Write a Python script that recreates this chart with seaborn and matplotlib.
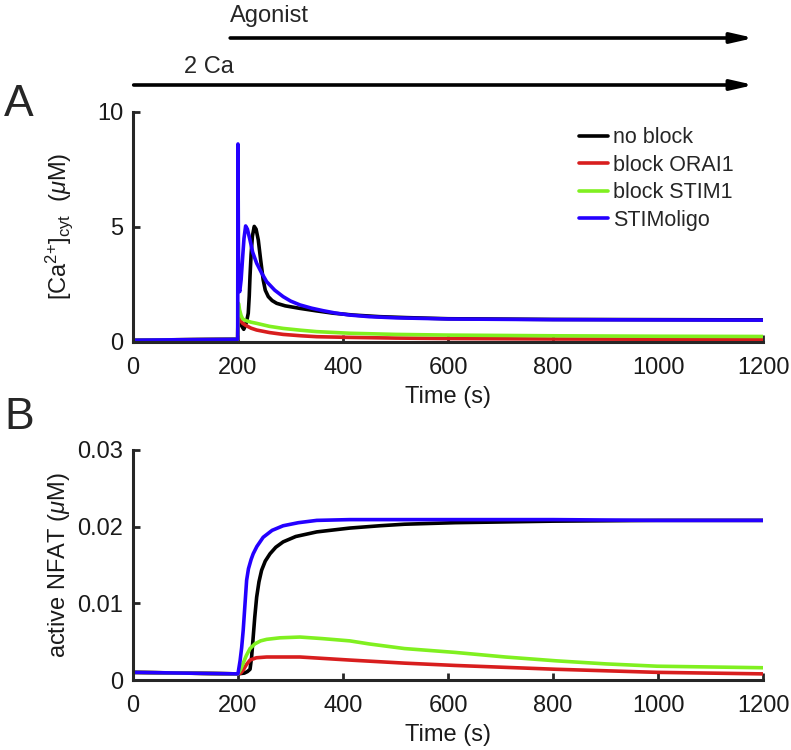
import pandas as pd
import matplotlib
matplotlib.use('Agg')
import matplotlib.pyplot as plt
import seaborn as sns

# series names / colours
conditions = ['no block', 'block ORAI1', 'block STIM1', 'STIMoligo']
colors = ['#000000', '#d81e1e', '#80f020', '#2400ff']

# Panel A : cytosolic Ca (uM)
t_noblock_A = [0, 100, 199.5, 200, 203, 207, 211, 214, 217, 219.6, 221.5, 222.9, 225, 227.5, 231,
               234.5, 238.7, 243, 248, 252, 257.8, 265, 273.7, 290, 318, 350, 381.6, 420, 470,
               520, 600, 800, 1000, 1200]
ca_noblock = [0.08, 0.1, 0.12, 1.3, 1.0, 0.7, 0.55, 0.7, 0.95, 1.25, 2.0, 2.84, 3.8, 4.6, 5.02,
              4.9, 4.43, 3.6, 2.7, 2.25, 1.97, 1.8, 1.68, 1.57, 1.46, 1.35, 1.25, 1.17, 1.1,
              1.06, 1.01, 0.98, 0.97, 0.96]
t_orai_A = [0, 100, 199.5, 200, 203, 206, 209, 215, 225, 235.6, 260, 286, 320, 350, 413, 500,
            600, 800, 1000, 1200]
ca_orai = [0.08, 0.1, 0.12, 1.3, 1.1, 0.9, 0.81, 0.72, 0.6, 0.52, 0.41, 0.33, 0.27, 0.23, 0.2,
           0.17, 0.15, 0.13, 0.12, 0.12]
t_stim_A = [0, 100, 199.5, 200, 201.5, 203, 206, 209, 215, 225, 235.6, 260, 286, 320, 350, 413,
            500, 600, 800, 1000, 1200]
ca_stim = [0.08, 0.1, 0.12, 1.7, 1.65, 1.4, 1.15, 1.0, 0.93, 0.86, 0.81, 0.68, 0.59, 0.51, 0.45,
           0.38, 0.33, 0.3, 0.27, 0.25, 0.24]
t_oligo_A = [0, 100, 199.5, 200, 201, 202, 203.4, 206, 209, 211.5, 214.6, 218, 222.9, 228, 235.6,
             245, 254.6, 270, 286, 300, 318, 340, 362, 385, 413, 450, 500, 600, 800, 1000, 1200]
ca_oligo = [0.08, 0.1, 0.12, 8.6, 3.5, 2.3, 2.19, 2.7, 3.71, 4.5, 5.04, 4.9, 4.43, 3.9, 3.42,
            3.0, 2.62, 2.25, 1.97, 1.78, 1.61, 1.47, 1.36, 1.26, 1.17, 1.1, 1.05, 1.0, 0.97,
            0.96, 0.95]

# Panel B : active NFAT (uM)
t_noblock_B = [0, 100, 200, 212, 218, 223, 226, 229, 232, 235.6, 240, 245, 252, 261, 272, 286,
               310, 350, 413, 470, 517, 613, 800, 1000, 1200]
nf_noblock = [0.001, 0.0009, 0.0008, 0.0009, 0.0011, 0.0014, 0.003, 0.0056, 0.0082, 0.0108,
              0.0128, 0.0143, 0.0155, 0.01645, 0.0173, 0.018, 0.0187, 0.0193, 0.0198, 0.0201,
              0.0203, 0.0205, 0.0207, 0.0208, 0.0208]
t_orai_B = [0, 100, 200, 205, 210, 216, 223, 235, 254.6, 318, 413, 517, 613, 806, 998, 1200]
nf_orai = [0.001, 0.0009, 0.0008, 0.0009, 0.0013, 0.002, 0.0026, 0.0029, 0.003, 0.003, 0.0026,
           0.0022, 0.0019, 0.0014, 0.001, 0.0008]
t_stim_B = [0, 100, 200, 205, 210, 216, 223, 232, 243, 254.6, 280, 318, 360, 413, 450, 517, 613,
            709, 806, 901, 998, 1200]
nf_stim = [0.001, 0.0009, 0.0008, 0.0014, 0.0022, 0.0032, 0.0041, 0.0047, 0.0051, 0.0053, 0.0055,
           0.0056, 0.0054, 0.0051, 0.0047, 0.0041, 0.0036, 0.003, 0.0025, 0.0021, 0.0018, 0.0016]
t_oligo_B = [0, 100, 200, 204, 207, 210, 213, 216.5, 220, 225, 229, 236, 248, 265, 286, 315, 350,
             413, 600, 800, 1000, 1200]
nf_oligo = [0.001, 0.0009, 0.0008, 0.0025, 0.0042, 0.0065, 0.0095, 0.013, 0.0145, 0.0157,
            0.01645, 0.0174, 0.0186, 0.0195, 0.0201, 0.0205, 0.0208, 0.0209, 0.0209, 0.0209,
            0.0208, 0.0208]


def long_table(times, values):
    rows = []
    for name, tt, vv in zip(conditions, times, values):
        for t, v in zip(tt, vv):
            rows.append({'time': t, 'value': v, 'condition': name})
    return pd.DataFrame(rows)


df_A = long_table([t_noblock_A, t_orai_A, t_stim_A, t_oligo_A],
                  [ca_noblock, ca_orai, ca_stim, ca_oligo])
df_B = long_table([t_noblock_B, t_orai_B, t_stim_B, t_oligo_B],
                  [nf_noblock, nf_orai, nf_stim, nf_oligo])

sns.set_style('ticks')
plt.rcParams['font.family'] = ['Liberation Sans', 'DejaVu Sans']
plt.rcParams['mathtext.fontset'] = 'custom'
plt.rcParams['mathtext.rm'] = 'Liberation Sans'
plt.rcParams['mathtext.it'] = 'Liberation Sans:italic'
plt.rcParams['mathtext.default'] = 'regular'
axcol = '#262626'

fig = plt.figure(figsize=(7.91, 7.5), dpi=100)
axA = fig.add_axes([0.168, 0.544, 0.797, 0.307])
axB = fig.add_axes([0.168, 0.0933, 0.797, 0.307])

palette = dict(zip(conditions, colors))
for ax, df in [(axA, df_A), (axB, df_B)]:
    sns.lineplot(data=df, x='time', y='value', hue='condition', hue_order=conditions,
                 palette=palette, estimator=None, sort=False, linewidth=2.6, ax=ax,
                 legend=(ax is axA))
    ax.set_xlim(0, 1200)
    ax.set_xticks([0, 200, 400, 600, 800, 1000, 1200])
    ax.set_xlabel('Time (s)', fontsize=17, color='#1a1a1a', labelpad=5)
    for s in ['top', 'right']:
        ax.spines[s].set_visible(False)
    for s in ['left', 'bottom']:
        ax.spines[s].set_linewidth(2.2)
        ax.spines[s].set_color(axcol)
    ax.tick_params(direction='in', length=5, width=2, color=axcol, labelsize=17,
                   labelcolor='#1a1a1a', pad=7)
    ax.tick_params(axis='x', pad=11)

axA.set_ylim(0, 10)
axA.set_yticks([0, 5, 10])
axA.set_ylabel(r'[Ca$^{2{+}}$]$_{cyt}$  ($\mathit{\mu}$M)', fontsize=17, color='#1a1a1a',
               labelpad=16)
axB.set_ylim(0, 0.03)
axB.set_yticks([0, 0.01, 0.02, 0.03])
axB.set_yticklabels(['0', '0.01', '0.02', '0.03'])
axB.set_ylabel(r'active NFAT ($\mathit{\mu}$M)', fontsize=17, color='#1a1a1a', labelpad=4)

leg = axA.legend(loc='upper right', bbox_to_anchor=(0.983, 1.017), frameon=False, fontsize=15.5,
                 handlelength=1.35, handletextpad=0.2, labelspacing=0.3)
for line in leg.get_lines():
    line.set_linewidth(2.6)

# panel letters
fig.text(0.005, 0.845, 'A', fontsize=32)
fig.text(0.005, 0.428, 'B', fontsize=32)

# protocol arrows
arrow = dict(arrowstyle='-|>,head_length=1.1,head_width=0.25', color='black', lw=2.6,
             shrinkA=0, shrinkB=0)
fig.add_artist(matplotlib.patches.FancyArrowPatch((0.291, 1 - 38 / 750), (0.953, 1 - 38 / 750),
                                                  transform=fig.transFigure, mutation_scale=12,
                                                  **arrow))
fig.add_artist(matplotlib.patches.FancyArrowPatch((0.169, 1 - 85 / 750), (0.953, 1 - 85 / 750),
                                                  transform=fig.transFigure, mutation_scale=12,
                                                  **arrow))
fig.text(0.291, 1 - 16 / 750, 'Agonist', fontsize=17, va='center')
fig.text(0.232, 1 - 67 / 750, '2 Ca', fontsize=17, va='center')

fig.savefig('out.png', dpi=100)
